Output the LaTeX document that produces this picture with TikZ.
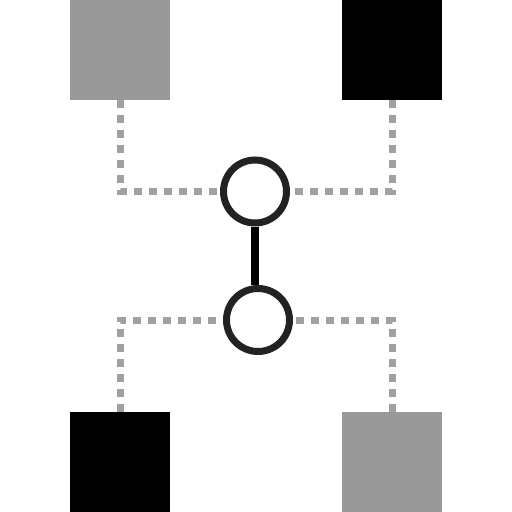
\documentclass[tikz,border=0pt]{standalone}
\usetikzlibrary{backgrounds}
\definecolor{sqgray}{RGB}{153,153,153}
\definecolor{dotgray}{RGB}{160,160,160}
\definecolor{ringcol}{RGB}{34,34,34}
\tikzset{
  sq/.style={rectangle, minimum size=100pt, inner sep=0pt, draw=none},
  ring/.style={circle, minimum size=63pt, inner sep=0pt, draw=ringcol, line width=7pt, fill=white},
  dotline/.style={draw=dotgray, line width=7pt, dash pattern=on 8pt off 7pt},
  bar/.style={draw=black, line width=7.5pt}
}
\begin{document}
\begin{tikzpicture}[x=1pt,y=-1pt]
\useasboundingbox (0,0) rectangle (512,512);
\node[sq, fill=sqgray] (tl) at (120,50) {};
\node[sq, fill=black] (tr) at (392,50) {};
\node[sq, fill=black] (bl) at (120,462) {};
\node[sq, fill=sqgray] (br) at (392,462) {};
\node[ring] (c1) at (255,191.5) {};
\node[ring] (c2) at (258,320) {};
\begin{scope}[on background layer]
\draw[dotline] (tl.south) |- (c1.center);
\draw[dotline] (tr.south) |- (c1.center);
\draw[dotline] (bl.north) |- (c2.center);
\draw[dotline] (br.north) |- (c2.center);
\end{scope}
\draw[bar] (c1.south) -- (c1.south |- c2.north);
\end{tikzpicture}
\end{document}
